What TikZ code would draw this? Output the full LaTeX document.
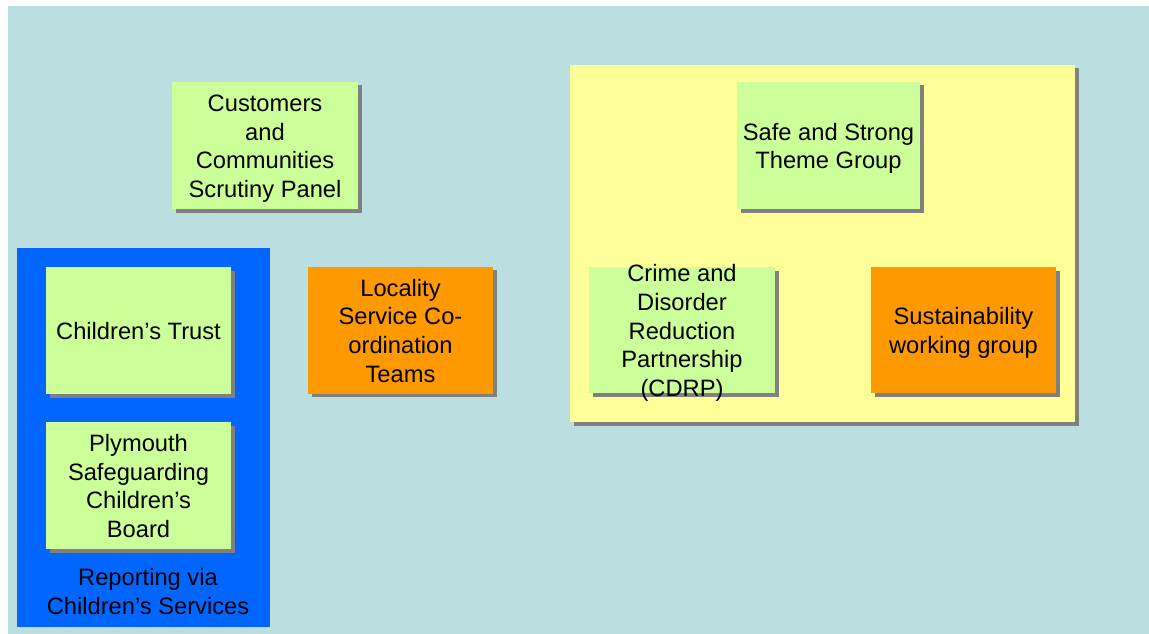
\documentclass[tikz,border=0pt]{standalone}
\usepackage{fontspec}
\setmainfont{Liberation Sans}
\usetikzlibrary{shadows}
\definecolor{bgteal}{HTML}{BBDFE1}
\definecolor{boxgreen}{HTML}{CCFF99}
\definecolor{boxorange}{HTML}{FF9900}
\definecolor{boxyellow}{HTML}{FFFF99}
\definecolor{boxblue}{HTML}{0066FF}
\definecolor{shadowgrey}{HTML}{808080}
\newcommand\ctext[1]{\smash{\raisebox{-9.6pt}{\begin{tabular}{@{}c@{}}#1\end{tabular}}}}
\tikzset{
  sh/.style={drop shadow={shadow xshift=3.5pt, shadow yshift=-3.5pt, fill=shadowgrey, opacity=1}},
  card/.style={sh, rectangle, inner sep=0pt, minimum width=#1,
               font=\fontsize{23.7}{28.7}\selectfont, text=black},
  gcard/.style={card=#1, fill=boxgreen, minimum height=127pt},
  ocard/.style={card=#1, fill=boxorange, minimum height=127pt},
  txt/.style={inner sep=0pt, font=\fontsize{23.7}{28.7}\selectfont, text=black}
}
\begin{document}
\begin{tikzpicture}[x=1pt,y=-1pt]
\useasboundingbox (0,0) rectangle (1149,634);
\fill[bgteal] (8,6) rectangle (1149,634);

% left blue panel
\node (blue) [rectangle, fill=boxblue, inner sep=0pt, minimum width=253pt, minimum height=379pt] at (143.5,437.5) {};
\node (trust) [gcard=185pt] at (138.5,330.5) {};
\node (trustt) [txt] at (trust.center) {\ctext{Children’s Trust}};
\node (plym) [gcard=185pt] at (138.5,485.5) {};
\node (plymt) [txt] at (plym.center) {\ctext{Plymouth\\Safeguarding\\Children’s\\Board}};
\node (report) [txt] at (148,591) {\ctext{Reporting via\\Children’s Services}};

% customers panel
\node (cust) [gcard=186pt] at (265,145.5) {};
\node (custt) [txt] at (cust.center) {\ctext{Customers\\and\\Communities\\Scrutiny Panel}};

% locality
\node (loc) [ocard=185pt] at (400.5,330) {};
\node (loct) [txt] at (loc.center) {\ctext{Locality\\Service Co-\\ordination\\Teams}};

% yellow panel
\node (yellow) [sh, rectangle, fill=boxyellow, inner sep=0pt, minimum width=505pt, minimum height=357pt] at (822.5,243.5) {};
\node (safe) [gcard=183pt] at (828.5,145.5) {};
\node (safet) [txt] at (safe.center) {\ctext{Safe and Strong\\Theme Group}};
\node (crime) [gcard=186pt, minimum height=126pt] at (682,330) {};
\node (crimet) [txt] at (crime.center) {\ctext{Crime and\\Disorder\\Reduction\\Partnership\\(CDRP)}};
\node (sust) [ocard=185pt, minimum height=126pt] at (963.5,330) {};
\node (sustt) [txt] at (sust.center) {\ctext{Sustainability\\working group}};
\end{tikzpicture}
\end{document}
